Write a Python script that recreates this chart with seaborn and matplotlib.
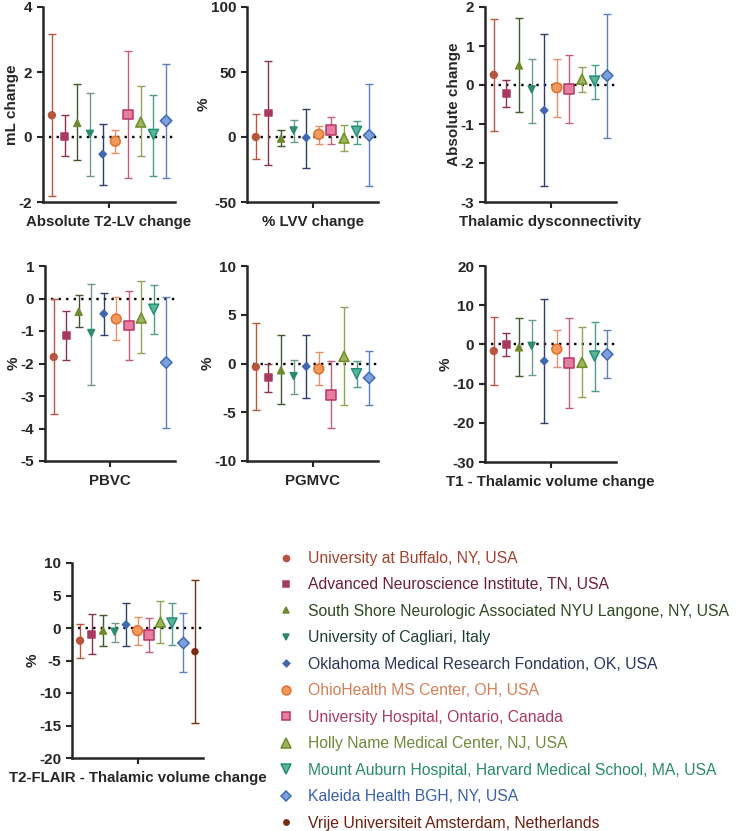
import numpy as np
import pandas as pd
import seaborn as sns
import matplotlib.pyplot as plt
from matplotlib.lines import Line2D


###
### DATA (mean, lower CI, upper CI per site)
###

sites = ['University at Buffalo, NY, USA',
         'Advanced Neuroscience Institute, TN, USA',
         'South Shore Neurologic Associated NYU Langone, NY, USA',
         'University of Cagliari, Italy',
         'Oklahoma Medical Research Fondation, OK, USA',
         'OhioHealth MS Center, OH, USA',
         'University Hospital, Ontario, Canada',
         'Holly Name Medical Center, NJ, USA',
         'Mount Auburn Hospital, Harvard Medical School, MA, USA',
         'Kaleida Health BGH, NY, USA',
         'Vrije Universiteit Amsterdam, Netherlands']

t2lv_mean = [0.67, 0.02, 0.43, 0.10, -0.53, -0.13, 0.69, 0.46, 0.08, 0.50]
t2lv_low = [-1.83, -0.59, -0.72, -1.21, -1.47, -0.48, -1.26, -0.57, -1.19, -1.25]
t2lv_high = [3.16, 0.67, 1.64, 1.35, 0.41, 0.23, 2.64, 1.57, 1.29, 2.25]

lvv_mean = [0.0, 18.5, -1.3, 5.1, -0.5, 2.1, 5.6, -0.8, 4.4, 1.3]
lvv_low = [-16.9, -21.3, -7.2, -4.1, -23.6, -5.1, -5.1, -10.8, -5.1, -37.7]
lvv_high = [17.4, 58.2, 5.6, 13.3, 21.8, 8.7, 15.6, 9.5, 12.6, 40.8]

dys_mean = [0.26, -0.22, 0.50, -0.11, -0.65, -0.07, -0.11, 0.15, 0.10, 0.24]
dys_low = [-1.19, -0.56, -0.69, -0.98, -2.59, -0.81, -0.97, -0.17, -0.35, -1.35]
dys_high = [1.70, 0.12, 1.71, 0.66, 1.30, 0.66, 0.76, 0.47, 0.52, 1.83]

pbvc_mean = [-1.80, -1.14, -0.41, -1.06, -0.47, -0.63, -0.83, -0.60, -0.33, -1.97]
pbvc_low = [-3.54, -1.90, -0.89, -2.66, -1.13, -1.29, -1.88, -1.69, -1.10, -3.99]
pbvc_high = [-0.03, -0.38, 0.11, 0.46, 0.16, 0.05, 0.22, 0.54, 0.43, 0.05]

pgmvc_mean = [-0.35, -1.47, -0.70, -1.29, -0.31, -0.56, -3.22, 0.73, -1.05, -1.47]
pgmvc_low = [-4.76, -2.90, -4.16, -3.11, -3.57, -2.17, -6.64, -4.23, -2.41, -4.27]
pgmvc_high = [4.13, -0.07, 2.94, 0.35, 2.97, 1.15, 0.21, 5.80, 0.21, 1.33]

t1_mean = [-1.69, 0.0, -0.76, -0.34, -4.24, -1.19, -4.83, -4.58, -2.97, -2.54]
t1_low = [-10.4, -3.05, -8.14, -7.80, -20.1, -5.85, -16.3, -13.3, -11.8, -8.56]
t1_high = [6.95, 2.97, 6.78, 6.19, 11.5, 3.64, 6.69, 4.49, 5.59, 3.64]

flair_mean = [-1.95, -0.97, -0.41, -0.56, 0.51, -0.41, -1.13, 0.92, 0.77, -2.31, -3.64]
flair_low = [-4.56, -4.00, -2.77, -2.21, -2.72, -2.56, -3.64, -2.31, -2.56, -6.77, -14.6]
flair_high = [0.62, 2.21, 1.95, 0.77, 3.79, 1.64, 1.49, 4.15, 3.79, 2.26, 7.38]


###
### STYLE PER SITE
###

fill_colors = ['#B8553F', '#A83A60', '#6E8A2E', '#2E8A6A', '#4068B0',
               '#F29A5E', '#E47FA2', '#9DB65E', '#5DB597', '#7FA0D8', '#7A2A12']
edge_colors = ['#B8553F', '#A83A60', '#6E8A2E', '#2E8A6A', '#4068B0',
               '#E0702E', '#B83466', '#6E8E2A', '#24907A', '#3E6CB8', '#7A2A12']
bar_colors = ['#B8553F', '#8A3050', '#3E5A2A', '#6E9A8A', '#2E3E6A',
              '#E8906A', '#C0607E', '#8EA45A', '#4E9E86', '#5A80C0', '#7A2A12']
text_colors = ['#A3422E', '#6E1E3C', '#2E4A22', '#1E4036', '#2A3658',
               '#D47E56', '#A83A66', '#6E8A3A', '#2A8A6A', '#3A60A8', '#6E1E10']
marker_shapes = ['o', 's', '^', 'v', 'D', 'o', 's', '^', 'v', 'D', 'o']
marker_sizes = [24, 24, 24, 24, 14, 50, 50, 52, 52, 34, 18]


###
### FIGURE
###

sns.set_style('ticks')
plt.rcParams['font.family'] = ['Liberation Sans', 'DejaVu Sans']
plt.rcParams['font.weight'] = 'bold'
plt.rcParams['axes.unicode_minus'] = False

fig = plt.figure(figsize=(7.38, 8.31), dpi=100)
W, H = 738.0, 831.0


def add_panel(left, right, top, bottom):
    return fig.add_axes([left / W, 1 - bottom / H, (right - left) / W, (bottom - top) / H])


def draw_panel(ax, mean, low, high, ylim, yticks, ylabel, xlabel):
    n = len(mean)
    df = pd.DataFrame({'x': np.arange(n), 'mean': mean, 'low': low, 'high': high,
                       'site': sites[:n]})
    for i, row in df.iterrows():
        ax.errorbar(row['x'], row['mean'],
                    yerr=[[row['mean'] - row['low']], [row['high'] - row['mean']]],
                    fmt='none', ecolor=bar_colors[i], elinewidth=1.0,
                    capsize=2.6, capthick=1.0, zorder=2)
    ax.hlines(0, -0.2, n - 1 + 0.7, colors='black', linestyles=(0, (1, 2.2)),
              linewidth=1.7, zorder=1)
    sns.scatterplot(data=df, x='x', y='mean', hue='site', style='site', size='site',
                    palette=dict(zip(sites, fill_colors)),
                    markers=dict(zip(sites, marker_shapes)),
                    sizes=dict(zip(sites, marker_sizes)),
                    legend=False, ax=ax, zorder=3, linewidth=1.1)
    ax.collections[-1].set_edgecolors(edge_colors[:n])

    ax.set_xlim(-0.7, n - 1 + 0.7)
    ax.set_ylim(ylim)
    ax.set_yticks(yticks)
    ax.set_xticks([(n - 1) / 2])
    ax.set_xticklabels([''])
    ax.set_xlabel(xlabel, fontsize=10.8, fontweight='bold', labelpad=2)
    ax.set_ylabel(ylabel, fontsize=11, fontweight='bold', labelpad=0)
    ax.tick_params(axis='both', length=4.2, width=1.5, labelsize=11, pad=3.5)
    for lab in ax.get_yticklabels():
        lab.set_fontweight('bold')
    sns.despine(ax=ax)
    for sp in ['left', 'bottom']:
        ax.spines[sp].set_linewidth(1.8)


ax1 = add_panel(43, 175, 7, 202)
draw_panel(ax1, t2lv_mean, t2lv_low, t2lv_high, (-2, 4), [-2, 0, 2, 4],
           'mL change', 'Absolute T2-LV change')

ax2 = add_panel(247, 378, 7, 202)
draw_panel(ax2, lvv_mean, lvv_low, lvv_high, (-50, 100), [-50, 0, 50, 100],
           '%', '% LVV change')

ax3 = add_panel(485, 616, 7, 202)
draw_panel(ax3, dys_mean, dys_low, dys_high, (-3, 2), [-3, -2, -1, 0, 1, 2],
           'Absolute change', 'Thalamic dysconnectivity')

ax4 = add_panel(45, 175, 266, 461)
draw_panel(ax4, pbvc_mean, pbvc_low, pbvc_high, (-5, 1), [-5, -4, -3, -2, -1, 0, 1],
           '%', 'PBVC')

ax5 = add_panel(247, 378, 266, 461)
draw_panel(ax5, pgmvc_mean, pgmvc_low, pgmvc_high, (-10, 10), [-10, -5, 0, 5, 10],
           '%', 'PGMVC')

ax6 = add_panel(485, 616, 266, 462)
draw_panel(ax6, t1_mean, t1_low, t1_high, (-30, 20), [-30, -20, -10, 0, 10, 20],
           '%', 'T1 - Thalamic volume change')

ax7 = add_panel(72, 203, 563, 758)
draw_panel(ax7, flair_mean, flair_low, flair_high, (-20, 10), [-20, -15, -10, -5, 0, 5, 10],
           '%', 'T2-FLAIR - Thalamic volume change')

# legend with coloured site names
handles = []
for i, s in enumerate(sites):
    handles.append(Line2D([], [], linestyle='none', marker=marker_shapes[i],
                          markersize=np.sqrt(marker_sizes[i]) * 0.9,
                          markerfacecolor=fill_colors[i], markeredgecolor=edge_colors[i],
                          markeredgewidth=1.1, label=s))
leg = fig.legend(handles=handles, loc='upper left', bbox_to_anchor=(278 / W, 1 - 551 / H),
                 frameon=False, labelcolor=text_colors, handlelength=1.0,
                 handletextpad=0.9, labelspacing=0.73, borderpad=0, borderaxespad=0,
                 prop={'family': 'Liberation Sans', 'weight': 'normal', 'size': 11.3})

plt.savefig('out.png', dpi=100)
